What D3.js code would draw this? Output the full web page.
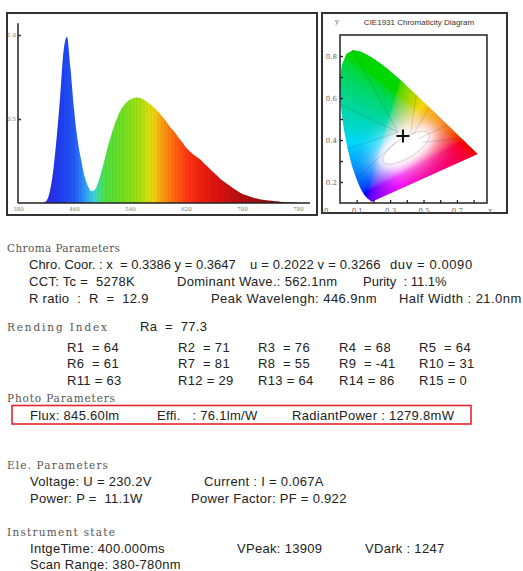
<!DOCTYPE html>
<html><head><meta charset="utf-8">
<script src="https://cdn.jsdelivr.net/npm/d3@7/dist/d3.min.js"></script>
<style>body{margin:0;background:#fff} svg{display:block} text{white-space:pre}</style>
</head><body>
<svg id="chart" width="523" height="571"></svg>
<script>
// ---------- DATA ----------
const wavelengths = [380,385,390,395,400,405,410,415,420,425,430,435,440,445,450,455,460,465,470,475,480,485,490,495,500,505,510,515,520,525,530,535,540,545,550,555,560,565,570,575,580,585,590,595,600,605,610,615,620,625,630,635,640,645,650,655,660,665,670,675,680,685,690,695,700,705,710,715,720,725,730,735,740,745,750,755,760,765,770,775,780];
const spectrumValues = [0,0,0,0,0,0,0,0,0.01,0.06,0.18,0.38,0.62,0.9,0.99,0.8,0.56,0.38,0.26,0.16,0.1,0.07,0.08,0.13,0.2,0.28,0.36,0.43,0.49,0.54,0.575,0.6,0.615,0.625,0.628,0.625,0.615,0.6,0.585,0.565,0.545,0.52,0.495,0.465,0.44,0.415,0.385,0.36,0.33,0.31,0.29,0.275,0.26,0.24,0.22,0.2,0.18,0.16,0.14,0.125,0.11,0.095,0.08,0.067,0.055,0.047,0.04,0.033,0.028,0.023,0.02,0.017,0.015,0.012,0.01,0.008,0.006,0.005,0.004,0.003,0.002];
const xTickValues = [380,460,540,620,700,780];
const yTickValues = [0.5,1.0];

// CIE 1931 spectral locus (nm, x, y)
const locusNm = [380,420,425,430,435,440,445,450,455,460,465,470,475,480,485,490,495,500,505,510,515,520,525,530,535,540,545,550,555,560,565,570,575,580,585,590,595,600,605,610,615,620,625,630,635,640,645,650,660,680,700];
const locusX = [0.1741,0.1714,0.1703,0.1689,0.1669,0.1644,0.1611,0.1566,0.1510,0.1440,0.1355,0.1241,0.1096,0.0913,0.0687,0.0454,0.0235,0.0082,0.0039,0.0139,0.0389,0.0743,0.1142,0.1547,0.1929,0.2296,0.2658,0.3016,0.3373,0.3731,0.4087,0.4441,0.4788,0.5125,0.5448,0.5752,0.6029,0.6270,0.6482,0.6658,0.6801,0.6915,0.7006,0.7079,0.7140,0.7190,0.7230,0.7260,0.7300,0.7334,0.7347];
const locusY = [0.0050,0.0051,0.0058,0.0069,0.0086,0.0109,0.0138,0.0177,0.0227,0.0297,0.0399,0.0578,0.0868,0.1327,0.2007,0.2950,0.4127,0.5384,0.6548,0.7502,0.8120,0.8338,0.8262,0.8059,0.7816,0.7543,0.7243,0.6923,0.6589,0.6245,0.5896,0.5547,0.5202,0.4866,0.4544,0.4242,0.3965,0.3725,0.3514,0.3340,0.3197,0.3083,0.2993,0.2920,0.2859,0.2809,0.2770,0.2740,0.2700,0.2666,0.2653];
const cieXTicks = [0.1,0.2,0.3,0.4,0.5,0.6,0.7,0.8];
const cieXLabels = [0.1,0.3,0.5,0.7];
const cieYTicks = [0.2,0.3,0.4,0.5,0.6,0.7,0.8];
const cieYLabels = [0.2,0.4,0.6,0.8];
const measuredX = 0.3386, measuredY = 0.3647;
const hueLineStarts = [[0.312,0.385],[0.312,0.385],[0.312,0.385],[0.30,0.33],[0.38,0.38],[0.39,0.37],[0.42,0.35],[0.44,0.33]];
const hueLineEnds = [520,500,490,480,565,575,590,605];

const chartTitle = "CIE1931 Chromaticity Diagram";
const sectionTitles = ["Chroma Parameters","Rending Index","Photo Parameters","Ele. Parameters","Instrument state"];
const chromaLine1 = ["Chro. Coor. : x  = 0.3386 y = 0.3647","u = 0.2022 v = 0.3266","duv = 0.0090"];
const chromaLine2 = ["CCT: Tc =  5278K","Dominant Wave.: 562.1nm","Purity  : 11.1%"];
const chromaLine3 = ["R ratio  :  R  =  12.9","Peak Wavelengh: 446.9nm","Half Width : 21.0nm"];
const raText = "Ra  =  77.3";
const renderNames = ["R1","R2","R3","R4","R5","R6","R7","R8","R9","R10","R11","R12","R13","R14","R15"];
const renderValues = [64,71,76,68,64,61,81,55,-41,31,63,29,64,86,0];
const photoLine = ["Flux: 845.60lm","Effi.   : 76.1lm/W","RadiantPower : 1279.8mW"];
const eleLine1 = ["Voltage: U = 230.2V","Current : I = 0.067A"];
const eleLine2 = ["Power: P =  11.1W","Power Factor: PF = 0.922"];
const instLine1 = ["IntgeTime: 400.000ms","VPeak: 13909","VDark : 1247"];
const instLine2 = ["Scan Range: 380-780nm"];

const spectrumColorNm = [420,440,460,470,480,488,495,505,530,555,565,575,585,600,620,640,670,700,740,780];
const spectrumColorHex = ["#2a28e0","#1f3cf0","#2258f5","#2a80f8","#32b0f0","#40d0e0","#40e090","#50e040","#70e020","#a8e010","#d0e010","#f0d010","#f8a010","#ff7010","#ff3a10","#f02010","#d81010","#b01010","#901010","#801010"];

// ---------- DRAW ----------
const svg = d3.select("#chart");
svg.append("rect").attr("width",523).attr("height",571).attr("fill","#fff");
const defs = svg.append("defs");

// Spectrum panel
svg.append("rect").attr("x",7).attr("y",13).attr("width",310).attr("height",202)
  .attr("fill","none").attr("stroke","#333").attr("stroke-width",2);
const xS = d3.scaleLinear().domain([380,780]).range([18,298]);
const yS = d3.scaleLinear().domain([0,1]).range([203,35]);

const grad = defs.append("linearGradient").attr("id","specGrad")
  .attr("gradientUnits","userSpaceOnUse").attr("x1",xS(380)).attr("x2",xS(780)).attr("y1",0).attr("y2",0);
spectrumColorNm.forEach((nm,i)=>grad.append("stop").attr("offset",(nm-380)/400).attr("stop-color",spectrumColorHex[i]));

const area = d3.area().x((d,i)=>xS(wavelengths[i])).y0(yS(0)).y1(d=>yS(d)).curve(d3.curveMonotoneX);
svg.append("path").datum(spectrumValues).attr("d",area).attr("fill","url(#specGrad)");
svg.append("g").selectAll("line").data(spectrumValues).join("line")
  .attr("x1",(d,i)=>xS(wavelengths[i])).attr("x2",(d,i)=>xS(wavelengths[i]))
  .attr("y1",yS(0)).attr("y2",d=>yS(d)+0.5)
  .attr("stroke","#000").attr("stroke-opacity",d=>d>0?0.07:0).attr("stroke-width",0.8);

svg.append("line").attr("x1",xS(380)).attr("x2",xS.range()[1]+12).attr("y1",yS(0)).attr("y2",yS(0)).attr("stroke","#222").attr("stroke-width",1.5);
svg.append("line").attr("x1",xS(380)).attr("x2",xS(380)).attr("y1",yS(0)).attr("y2",yS(1.07)).attr("stroke","#222").attr("stroke-width",1.5);
const gx = svg.append("g").attr("transform",`translate(0,${yS(0)})`)
  .call(d3.axisBottom(xS).tickValues(xTickValues).tickSize(0).tickPadding(4).tickFormat(d3.format("d")));
gx.select(".domain").remove();
gx.selectAll("text").attr("font-family","DejaVu Serif").attr("font-size",5.5).attr("fill","#777");
const gy = svg.append("g").attr("transform",`translate(${xS(380)},0)`)
  .call(d3.axisLeft(yS).tickValues(yTickValues).tickSizeInner(-3).tickSizeOuter(0).tickPadding(2).tickFormat(d3.format(".1f")));
gy.select(".domain").remove();
gy.selectAll("line").attr("stroke","#333").attr("stroke-width",1.5);
gy.selectAll("text").attr("font-family","DejaVu Serif").attr("font-size",5.5).attr("fill","#777");

// CIE panel
svg.append("rect").attr("x",322).attr("y",13).attr("width",185).attr("height",200)
  .attr("fill","none").attr("stroke","#333").attr("stroke-width",2);
const locX = d3.scaleLinear().domain([0,0.8]).range([339,490.2]);
const locY = d3.scaleLinear().domain([0,0.9]).range([202.6,38]);
const axX = d3.scaleLinear().domain([0,0.88]).range([340,487]);
const axY = d3.scaleLinear().domain([0.1,0.9]).range([203,35]);

const locusPts = locusX.map((x,i)=>[locX(x),locY(locusY[i])]);
defs.append("clipPath").attr("id","locusClip").append("path").attr("d",d3.line()(locusPts)+"Z");
[["blurBig",10],["blurSmall",4]].forEach(([id,s])=>
  defs.append("filter").attr("id",id).attr("x","-80%").attr("y","-80%").attr("width","260%").attr("height","260%")
    .append("feGaussianBlur").attr("stdDeviation",s));

function xyToRGB(x,y){
  if(y<=0.0005) y=0.0005;
  const X=x/y, Y=1, Z=(1-x-y)/y;
  let r=3.2406*X-1.5372*Y-0.4986*Z, g=-0.9689*X+1.8758*Y+0.0415*Z, b=0.0557*X-0.2040*Y+1.0570*Z;
  r=Math.max(r,0); g=Math.max(g,0); b=Math.max(b,0);
  const m=Math.max(r,g,b)||1; r/=m; g/=m; b/=m;
  const gam=v=> v<=0.0031308?12.92*v:1.055*Math.pow(v,1/2.4)-0.055;
  return [gam(r)*245, gam(g)*215, gam(b)*250];
}
const bx0=338, bx1=482, by0=36, by1=204, RES=3;
const cw=(bx1-bx0)*RES, ch=(by1-by0)*RES;
const canvas=document.createElement("canvas"); canvas.width=cw; canvas.height=ch;
const ctx=canvas.getContext("2d"); const img=ctx.createImageData(cw,ch);
for(let j=0;j<ch;j++){
  const cy=locY.invert(by0+(j+0.5)/RES);
  for(let i=0;i<cw;i++){
    const cx=locX.invert(bx0+(i+0.5)/RES);
    const c=xyToRGB(cx,cy); const k=(j*cw+i)*4;
    img.data[k]=c[0]; img.data[k+1]=c[1]; img.data[k+2]=c[2]; img.data[k+3]=255;
  }
}
ctx.putImageData(img,0,0);
const gamut = svg.append("g").attr("clip-path","url(#locusClip)");
gamut.append("image").attr("href",canvas.toDataURL()).attr("x",bx0).attr("y",by0)
  .attr("width",bx1-bx0).attr("height",by1-by0).attr("preserveAspectRatio","none");
const wc=[locX(0.355),locY(0.30)];
gamut.append("ellipse").attr("cx",wc[0]).attr("cy",wc[1]).attr("rx",40).attr("ry",22)
  .attr("transform",`rotate(-32,${wc[0]},${wc[1]})`).attr("fill","#fff").attr("opacity",0.75).attr("filter","url(#blurBig)");
gamut.append("ellipse").attr("cx",wc[0]).attr("cy",wc[1]).attr("rx",30).attr("ry",14)
  .attr("transform",`rotate(-32,${wc[0]},${wc[1]})`).attr("fill","#fff").attr("filter","url(#blurSmall)");
gamut.append("ellipse").attr("cx",wc[0]).attr("cy",wc[1]).attr("rx",27).attr("ry",10)
  .attr("transform",`rotate(-32,${wc[0]},${wc[1]})`).attr("fill","none").attr("stroke","#999").attr("stroke-opacity",0.6).attr("stroke-width",0.6);
gamut.append("g").selectAll("line").data(hueLineEnds).join("line")
  .attr("x1",(d,i)=>locX(hueLineStarts[i][0])).attr("y1",(d,i)=>locY(hueLineStarts[i][1]))
  .attr("x2",d=>locX(locusX[locusNm.indexOf(d)])).attr("y2",d=>locY(locusY[locusNm.indexOf(d)]))
  .attr("stroke","#333").attr("stroke-opacity",0.3).attr("stroke-width",0.6);

svg.append("rect").attr("x",axX(0)).attr("y",axY(0.9)).attr("width",axX(0.88)-axX(0)).attr("height",axY(0.1)-axY(0.9))
  .attr("fill","none").attr("stroke","#222").attr("stroke-width",1.5);
const cgx = svg.append("g").attr("transform",`translate(0,${axY(0.1)})`)
  .call(d3.axisBottom(axX).tickValues(cieXTicks).tickSizeInner(-3).tickSizeOuter(0).tickPadding(5)
    .tickFormat(d=>cieXLabels.includes(d)?d3.format(".1f")(d):""));
cgx.select(".domain").remove();
cgx.selectAll("line").attr("stroke","#222").attr("stroke-width",1.3);
cgx.selectAll("text").attr("font-family","DejaVu Serif").attr("font-size",7).attr("fill","#666");
const cgy = svg.append("g").attr("transform",`translate(${axX(0)},0)`)
  .call(d3.axisLeft(axY).tickValues(cieYTicks).tickSizeInner(-3).tickSizeOuter(0).tickPadding(3)
    .tickFormat(d=>cieYLabels.includes(d)?d3.format(".1f")(d):""));
cgy.select(".domain").remove();
cgy.selectAll("line").attr("stroke","#222").attr("stroke-width",1.3);
cgy.selectAll("text").attr("font-family","DejaVu Serif").attr("font-size",7).attr("fill","#666");
svg.append("text").attr("x",axX(0.9)).attr("y",axY(0.1)+10).attr("text-anchor","middle")
  .attr("font-family","DejaVu Serif").attr("font-size",7).attr("fill","#666").text("x");
svg.append("text").attr("x",324).attr("y",axY(0.1)+10)
  .attr("font-family","DejaVu Serif").attr("font-size",7).attr("fill","#666").text("0");
svg.append("text").attr("x",337).attr("y",24).attr("text-anchor","middle")
  .attr("font-family","DejaVu Serif").attr("font-size",7).attr("fill","#666").text("y");
svg.append("text").attr("x",419).attr("y",24.5).attr("text-anchor","middle")
  .attr("font-family","Liberation Sans").attr("font-size",8).attr("fill","#333").text(chartTitle);
svg.append("path").attr("d","M-6.5,0H6.5M0,-6.5V6.5")
  .attr("transform",`translate(${locX(measuredX)},${locY(measuredY)})`)
  .attr("stroke","#111").attr("stroke-width",2);

// ---------- TEXT ----------
const tg = svg.append("g");
function head(x,y,s,w){
  tg.append("text").attr("x",x).attr("y",y).attr("font-family","DejaVu Serif").attr("font-size",10.5)
    .attr("fill","#555").attr("textLength",w).attr("lengthAdjust","spacing").text(s);
}
function body(x,y,s,ls){
  tg.append("text").attr("x",x).attr("y",y).attr("font-family","Liberation Sans").attr("font-size",13)
    .attr("letter-spacing",ls==null?0.3:ls).attr("fill","#222").text(s);
}
head(7,252,sectionTitles[0],113);
body(29,269,chromaLine1[0],0);
body(250,269,chromaLine1[1],0.2);
body(390,269,chromaLine1[2],0.6);
[29,177,363].forEach((x,i)=>body(x,285.5,chromaLine2[i],i==2?0:0.3));
[29,211,399].forEach((x,i)=>body(x,302.5,chromaLine3[i],i==0?0.3:0.45));
head(7,331,sectionTitles[1],100);
body(140,331,raText);
const colX=[67,178,258,339,419], rowY=[351.5,368,385];
renderNames.forEach((n,i)=>{
  const label = n + (n.length<3?"  = ":" = ") + renderValues[i];
  body(colX[i%5], rowY[Math.floor(i/5)], label);
});
head(7,402,sectionTitles[2],108);
tg.append("rect").attr("x",12).attr("y",405.5).attr("width",459).attr("height",18.5)
  .attr("fill","none").attr("stroke","#e3262b").attr("stroke-width",1.6);
[30,157,292].forEach((x,i)=>body(x,419.5,photoLine[i]));
head(7,469,sectionTitles[3],101);
[30,204].forEach((x,i)=>body(x,486,eleLine1[i]));
[30,191].forEach((x,i)=>body(x,503,eleLine2[i]));
head(7,536,sectionTitles[4],108);
[30,237,365].forEach((x,i)=>body(x,552.5,instLine1[i]));
body(30,569,instLine2[0]);
</script>
</body></html>
